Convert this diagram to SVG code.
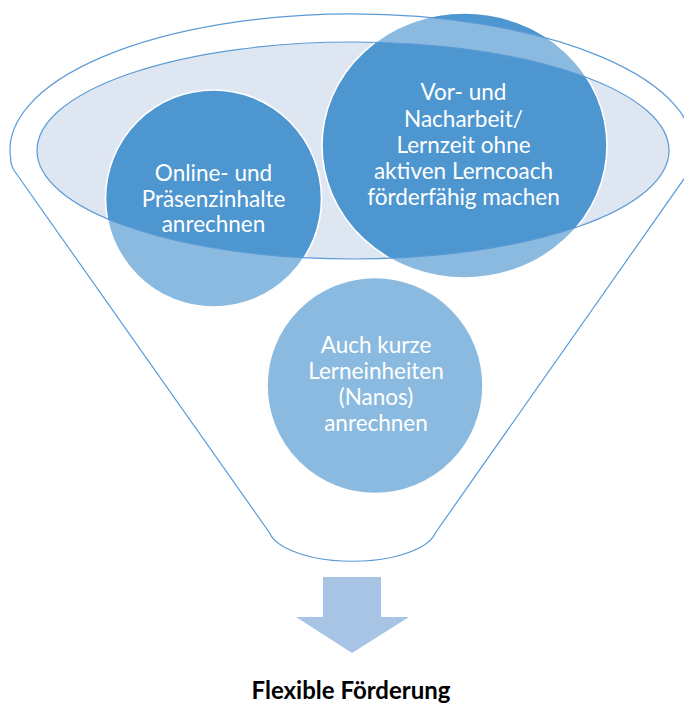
<svg xmlns="http://www.w3.org/2000/svg" width="684" height="703" viewBox="0 0 684 703">
  <style>
    .bubble { fill: #4E96D0; stroke: #FFFFFF; stroke-width: 1.6; }
    .label { font-family: Lato, "Liberation Sans", sans-serif; font-size: 22.5px; fill: #FFFFFF; text-anchor: middle; }
    .title { font-family: Lato, "Liberation Sans", sans-serif; font-size: 24px; font-weight: bold; fill: #000000; text-anchor: middle; }
    .rim { stroke: #5B9BD5; stroke-width: 1.2; }
  </style>
  <rect width="684" height="703" fill="#FFFFFF"/>

  <!-- funnel mouth -->
  <g id="funnel-mouth">
    <ellipse cx="353" cy="150.5" rx="316" ry="108.5" fill="#DEE6F2"/>
  </g>

  <!-- items poured into the funnel -->
  <g id="item-online">
    <ellipse class="bubble" cx="213.5" cy="198.5" rx="108" ry="108.5"/>
  </g>
  <g id="item-vorarbeit">
    <ellipse class="bubble" cx="464.5" cy="145.5" rx="142.5" ry="132.5"/>
  </g>
  <g id="item-nanos">
    <ellipse class="bubble" cx="375" cy="385.5" rx="108" ry="108"/>
  </g>

  <!-- funnel body: translucent white glaze with the mouth cut out -->
  <g id="funnel-body">
    <path fill="#FFFFFF" fill-opacity="0.35" fill-rule="evenodd" class="rim"
          d="M 14.5 171 Q 10.6 165 10.6 158 A 342 136 0 1 1 693.4 158 Q 693.4 165 689.5 171
             L 436 532 Q 432 541 421 547 C 385 566 320 566 284 547 Q 273 541 269 532 Z
             M 37 150.5 A 316 108.5 0 0 0 669 150.5 A 316 108.5 0 0 0 37 150.5 Z"/>
  </g>

  <!-- labels -->
  <g id="labels">
    <text class="label" x="213.5" y="181">Online- und</text>
    <text class="label" x="213.5" y="206.5">Präsenzinhalte</text>
    <text class="label" x="213.5" y="232">anrechnen</text>

    <text class="label" x="463.5" y="100">Vor- und</text>
    <text class="label" x="463.5" y="126.5">Nacharbeit/</text>
    <text class="label" x="463.5" y="152.5">Lernzeit ohne</text>
    <text class="label" x="463.5" y="179">aktiven Lerncoach</text>
    <text class="label" x="463.5" y="205">förderfähig machen</text>

    <text class="label" x="376" y="353">Auch kurze</text>
    <text class="label" x="376" y="379">Lerneinheiten</text>
    <text class="label" x="376" y="405">(Nanos)</text>
    <text class="label" x="376" y="431">anrechnen</text>
  </g>

  <!-- output arrow -->
  <g id="connectors">
    <path fill="#A8C4E5" d="M 323 577 L 381 577 L 381 617 L 409 617 L 352 653 L 296 617 L 323 617 Z"/>
  </g>

  <g id="result">
    <text class="title" x="351" y="699">Flexible Förderung</text>
  </g>
</svg>
